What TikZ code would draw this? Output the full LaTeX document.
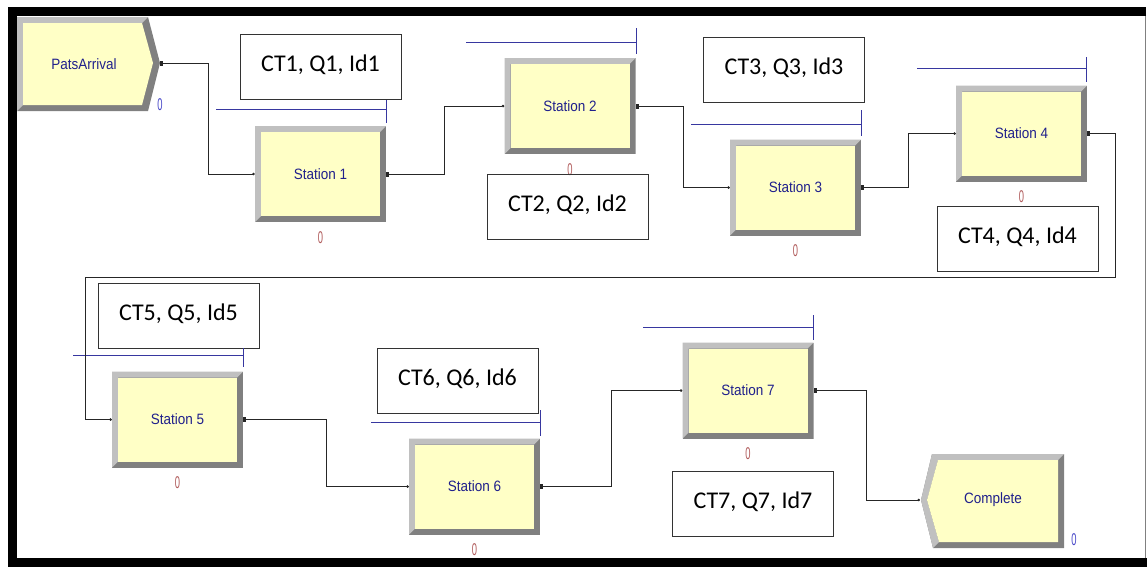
\documentclass[tikz,border=0pt]{standalone}
\usepackage{fontspec}
\setmainfont{Carlito}
\newfontfamily\arenafont[FakeStretch=0.9]{Liberation Sans}
\newfontfamily\cntfont[FakeStretch=0.55]{Liberation Sans}
\usepackage{tikz}
\usetikzlibrary{arrows.meta, positioning, calc}
\definecolor{arenayellow}{RGB}{255,255,198}
\definecolor{bevlight}{RGB}{192,192,192}
\definecolor{bevdark}{RGB}{128,128,128}
\definecolor{arenablue}{RGB}{32,32,140}
\definecolor{queueblue}{RGB}{55,55,160}
\definecolor{cntred}{RGB}{176,90,90}
\definecolor{cntblue}{RGB}{70,70,200}

\tikzset{
  arenatext/.style={inner sep=0pt, font=\arenafont\fontsize{15}{15}\selectfont, text=arenablue},
  station/.style={arenatext, minimum width=131pt, minimum height=96pt,
    path picture={
      \coordinate (bnw) at (path picture bounding box.north west);
      \coordinate (bse) at (path picture bounding box.south east);
      \fill[bevdark] (bnw) rectangle (bse);
      \fill[bevlight] (bnw) -- (bse |- bnw) -- ($(bse |- bnw)+(-6pt,-6pt)$)
        -- ($(bnw)+(6pt,-6pt)$) -- ($(bnw |- bse)+(6pt,6pt)$) -- (bnw |- bse) -- cycle;
      \fill[arenayellow] ($(bnw)+(6pt,-6pt)$) rectangle ($(bse)+(-6pt,6pt)$);
    }},
  ctbox/.style={draw=black!80, line width=1pt, minimum width=161pt, minimum height=65pt,
    inner sep=0pt, font=\fontsize{24}{28}\selectfont, text height=17pt, text depth=8pt},
  cnt/.style={inner sep=0pt, font=\cntfont\fontsize{17}{17}\selectfont, text=cntred},
  queue/.style={draw=queueblue, line width=0.9pt},
  conn/.style={draw=black!85, line width=0.9pt, {Square[length=3pt,width=5pt]}-{Circle[length=2.5pt]}}
}

\begin{document}
\begin{tikzpicture}[x=1pt, y=-1pt]
  \useasboundingbox[fill=white] (0,0) rectangle (1147,566);
  \draw[line width=9pt] (1146,11.5) -- (12.5,11.5) -- (12.5,562) -- (1147,562);
  \draw[gray, line width=1pt] (1145.5,16) -- (1145.5,558);

  \fill[bevdark] (17,17) -- (148,17) -- (160,63) -- (148,111) -- (17,111) -- cycle;
  \fill[bevlight] (17,17) -- (148,17) -- (142,23) -- (23,23) -- (23,105) -- (17,111) -- cycle;
  \fill[arenayellow] (23,23) -- (142,23) -- (153,63) -- (142,105) -- (23,105) -- cycle;
  \node[arenatext] (arr) at (84,64) {PatsArrival};
  \coordinate (arrout) at (160,63);
  \node[cnt, text=cntblue] (zarr) at (160,105) {0};

  \node[station] (st1) at (320.5,174) {Station 1};
  \node[station] (st2) at (570,106) {Station 2};
  \node[station] (st3) at (795.5,187.5) {Station 3};
  \node[station] (st4) at (1021.5,133.5) {Station 4};
  \node[station] (st5) at (177.5,419.5) {Station 5};
  \node[station] (st6) at (474.5,486.5) {Station 6};
  \node[station] (st7) at (748,390.5) {Station 7};

  \foreach \s in {1,...,7}
    \node[cnt, below=9pt of st\s] (z\s) {0};

  \node[ctbox] (ct1) at (320.5,66.5) {CT1, Q1, Id1};
  \node[ctbox] (ct2) at (567.5,206.5) {CT2, Q2, Id2};
  \node[ctbox] (ct3) at (784,69.5) {CT3, Q3, Id3};
  \node[ctbox] (ct4) at (1017.5,238.5) {CT4, Q4, Id4};
  \node[ctbox] (ct5) at (178.5,316) {CT5, Q5, Id5};
  \node[ctbox] (ct6) at (457.5,381) {CT6, Q6, Id6};
  \node[ctbox] (ct7) at (753,503.5) {CT7, Q7, Id7};

  \foreach \xa/\xb/\yq/\ya/\yb in {216/386/109/100/123, 466/636/42/28/54, 691/861/124/110/136,
      917/1086/68/57/82, 73/243/355/348/367, 371/540/422/410/436, 643/813/327/315/340}
    \draw[queue] (\xa,\yq) -- (\xb,\yq) (\xb,\ya) -- (\xb,\yb);

  \fill[bevdark] (932,454) -- (1064,454) -- (1064,548) -- (933,548) -- (921,500) -- cycle;
  \fill[bevlight] (932,454) -- (1064,454) -- (1058,460) -- (938,460) -- (927,500) -- (939,542)
    -- (933,548) -- (921,500) -- cycle;
  \fill[arenayellow] (938,460) -- (1058,460) -- (1058,542) -- (939,542) -- (927,500) -- cycle;
  \node[arenatext] (disp) at (993,500) {Complete};
  \coordinate (dispin) at (920,500);
  \node[cnt, text=cntblue] (zdisp) at (1074,540) {0};

  \coordinate (wrap) at (85,277);
  \draw[conn] (arrout) -- ++(48,0) |- (st1.west);
  \draw[conn] (st1.east) -- ++(58,0) |- (st2.west);
  \draw[conn] (st2.east) -- ++(48,0) |- (st3.west);
  \draw[conn] (st3.east) -- ++(47,0) |- (st4.west);
  \draw[conn] (st4.east) -- ++(28,0) |- (wrap) |- (st5.west);
  \draw[conn] (st5.east) -- ++(83,0) |- (st6.west);
  \draw[conn] (st6.east) -- ++(71,0) |- (st7.west);
  \draw[conn] (st7.east) -- ++(53,0) |- (dispin);
\end{tikzpicture}
\end{document}
